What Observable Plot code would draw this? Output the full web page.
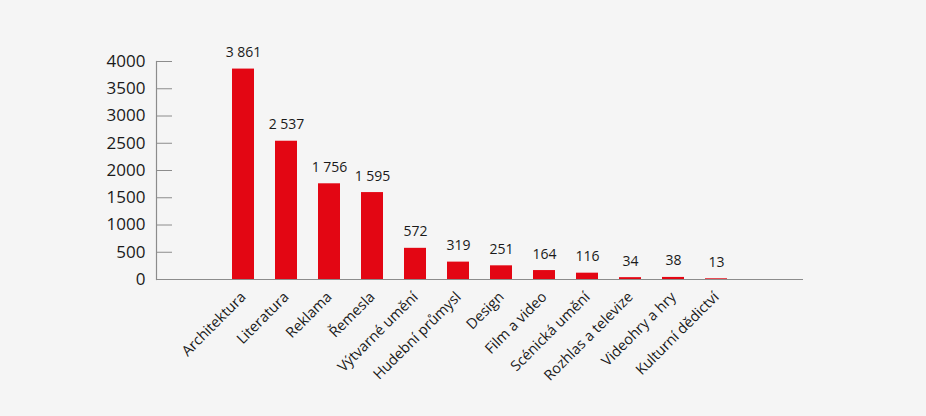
<!DOCTYPE html>
<html>
<head>
<meta charset="utf-8">
<script src="https://cdn.jsdelivr.net/npm/d3@7"></script>
<script src="https://cdn.jsdelivr.net/npm/@observablehq/plot@0.6"></script>
<style>
  html, body { margin: 0; padding: 0; background: #f5f5f5; }
  #chart { width: 926px; height: 416px; }
</style>
</head>
<body>
<div id="chart"></div>
<script>
const categories = ["Architektura", "Literatura", "Reklama", "Řemesla", "Výtvarné umění", "Hudební průmysl", "Design", "Film a video", "Scénická umění", "Rozhlas a televize", "Videohry a hry", "Kulturní dědictví"];
const values = [3861, 2537, 1756, 1595, 572, 319, 251, 164, 116, 34, 38, 13];
const yTicks = [0, 500, 1000, 1500, 2000, 2500, 3000, 3500, 4000];

const data = categories.map((c, i) => ({cat: c, value: values[i]}));
const fmt = d3.formatLocale({decimal: ",", thousands: " ", grouping: [3], currency: ["", ""]}).format(",d");

const axisColor = "#8c8c8c";
const textColor = "#1a1a1a";

const chart = Plot.plot({
  width: 926,
  height: 416,
  marginLeft: 156,
  marginRight: 123,
  marginTop: 61,
  marginBottom: 137,
  style: {background: "#f5f5f5", fontFamily: "'Open Sans', sans-serif", color: textColor},
  x: {domain: categories, paddingInner: 0.5, paddingOuter: 1.75, label: null},
  y: {domain: [0, 4000], label: null},
  marks: [
    Plot.barY(data, {x: "cat", y: "value", fill: "#e30613"}),
    Plot.text(data, {x: "cat", y: "value", text: d => fmt(d.value), lineAnchor: "bottom", dy: -12, fontSize: 14, fill: textColor}),
    Plot.ruleY([0], {stroke: axisColor, strokeWidth: 1.2}),
    Plot.frame({anchor: "left", stroke: axisColor, strokeWidth: 1.2}),
    Plot.axisY({ticks: yTicks, tickFormat: d => String(d), tickSize: 16, dx: 16, tickPadding: 11, fontSize: 17, stroke: axisColor, fill: textColor, label: null}),
    Plot.axisX({tickSize: 0, tickRotate: -45, tickPadding: 15, fontSize: 14.5, fill: textColor, label: null})
  ]
});
document.getElementById("chart").appendChild(chart);
</script>
</body>
</html>
